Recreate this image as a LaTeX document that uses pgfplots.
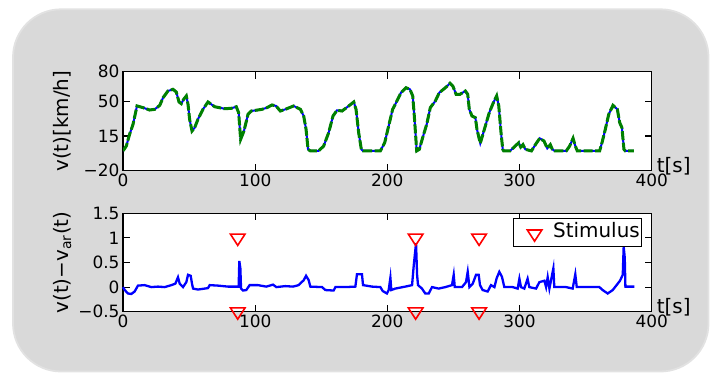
\documentclass[border=0pt]{standalone}
\usepackage{fontspec}
\setmainfont{DejaVu Sans}
\usepackage{pgfplots}
\usepackage{pgfplotstable}
\pgfplotsset{compat=1.18}

\definecolor{boxfill}{HTML}{D9D9D9}
\definecolor{boxedge}{HTML}{E2E2E2}
\definecolor{mgreen}{rgb}{0,0.5,0}

\pgfplotstableread{
t v
0 0
2.5 4.9
5 16.8
7.6 26.9
10.6 45.4
15.1 43.7
20.2 41.3
24 42
27.8 46
30.3 53.7
34 60.5
37.8 62.2
40.3 59.5
42.4 49.4
44.1 47.7
45.9 52.1
47.9 55.5
49.2 47
50.4 31.9
52.2 20.1
54.2 23.4
56.7 31.9
60.5 42
64.3 49.4
69.4 44.6
76.9 42.6
81.9 43
85.7 44.6
87.5 38.6
89 11.7
91.5 20.1
94.6 37
97.1 40.3
105.2 42
109 43.7
112.7 46.4
115.8 45.4
119 40.3
122.8 42
129.1 45.4
134.2 42
136.7 35.3
138.5 21.8
140 1.6
141.7 0
148 0
151.8 4.9
155.6 18.4
158.9 35.3
161.9 41
165.7 40.3
170.8 45.4
174.6 49.4
176.3 42
178.3 18.4
180.3 1.6
181.6 0
194.7 0
198 8.3
201 25.2
204 42
206.6 48.7
210.3 58.8
214.1 63.8
217.1 62.2
219.2 55.5
220.4 35.3
222.2 0
224.2 1.6
226.7 13.3
229.8 26.9
232.5 43.7
236.3 50.4
239.3 58.8
243.9 63.8
247.4 68.3
249.5 65.6
252 57.2
255 57.2
259 60.5
260.8 57.2
262 42
264 35.3
266.6 33.5
267.8 21.8
270.3 7.7
273.4 21.8
277.1 38.6
280.2 48.7
282.7 55.5
284.3 45.4
286 18.4
287.3 1.6
288 0
292.8 0
296 3.9
299.4 8.3
300.9 3.9
302.6 6.3
304.4 1.6
309 0
312.7 7.7
315.3 12.7
318.5 10
321 2.6
323.3 6.3
324.8 1.6
326.6 0
335.4 0
337.9 4.9
340.5 12.7
342.2 4.9
343.7 0
360.6 0
362.4 8.3
364.9 21.8
367.5 37
370.7 46
374 42
375.8 28.5
377.5 23.4
379 1.6
380 0
386.6 0
}\speed

\pgfplotstableread{
t d
0 0
1.3 -0.06
3.8 -0.13
6.3 -0.14
8.8 -0.09
11.3 0.03
16.4 0.04
21.4 0
26.5 0.01
31.5 0
36.6 0.04
39.6 0.07
41.6 0.2
42.9 0.07
45.4 0
47.9 0.1
49.2 0.25
51.2 0.23
52.2 0.07
53 -0.03
56.7 -0.05
64.3 -0.02
65.6 0.04
71.9 0.03
79.4 0.01
87.5 0.01
88 0.53
88.8 0.38
89.3 -0.03
90.8 -0.07
93.3 -0.06
95.8 0.04
102.1 0.04
108.4 0.01
113.5 0.05
116 0
122.8 0.02
128.6 0.01
132.9 0.04
136.7 0.14
138.5 0.23
140.5 0.14
141.7 0.01
150.6 0
153.1 -0.06
159.4 -0.07
160.7 0
168.2 0
175.8 0.01
177 0.26
180.8 0.26
181.6 0.04
188.4 0.01
194.7 0
196.5 -0.08
199.7 -0.13
201 -0.06
202.3 0.19
203 -0.06
206 -0.03
213.6 0.01
218.7 0.04
220 0.45
221.7 0.89
222.5 0.25
223.2 0.04
226.2 -0.03
228.7 -0.13
231.3 -0.13
233.8 0
238.8 -0.03
243.9 0
248.9 0.04
250.2 0.25
251 0
256.5 0
259.5 0.1
260.8 0.31
262.1 0
264.6 0.07
267.1 0.25
269.1 0.25
270.1 0.04
272.1 -0.06
275.9 -0.09
278.4 0.04
281 0
282.7 0.18
284.7 0.31
286.7 0.21
288.5 0
294.8 0
298.6 -0.03
299.9 0.17
301.1 0
303.6 -0.03
306.1 0.17
307.4 0
312.5 -0.03
315 0.1
318.8 0.13
320.1 0
321.3 0.2
322.6 -0.03
325.6 0.38
326.3 0
335.2 0
340.2 -0.03
342.2 0.26
343.3 0
360.4 0
362.9 -0.06
366.7 -0.13
370.5 -0.06
374.3 0.07
376 0.13
378.1 0.25
378.8 0.82
379.6 0.6
380.1 0.01
386.9 0.01
}\diff

\pgfplotstableread{
t s
86.8 1
221.4 1
269.4 1
86.8 -0.5
221.4 -0.5
269.4 -0.5
}\stim

\pgfplotsset{
  mystyle/.style={
    scale only axis, width=528.7bp,
    xmin=0, xmax=400,
    xtick={0,100,200,300,400}, xticklabels={0,100,200,300,400},
    tick align=inside, major tick length=7bp,
    axis line style={line width=1.1bp},
    every tick/.style={black, line width=1.1bp},
    axis background/.style={fill=white},
    tick label style={font=\fontsize{17}{20}\selectfont},
    label style={font=\fontsize{20}{24}\selectfont},
    xlabel={t[s]},
    xlabel style={at={(rel axis cs:1,0)}, anchor=base west, inner sep=0pt, xshift=5bp, yshift=-2bp},
    ylabel style={at={(axis description cs:-0.104,0.5)}, anchor=base, inner sep=0pt},
  }
}

\begin{document}
\begin{tikzpicture}
\path[use as bounding box] (0,0) rectangle (716bp,374bp);
\draw[fill=boxfill, draw=boxedge, line width=1.8bp, rounded corners=48bp] (13bp,2.5bp) rectangle (708.5bp,364.7bp);

\begin{axis}[mystyle,
  at={(123bp,203.3bp)}, anchor=south west, height=99bp,
  ymin=-20, ymax=80,
  ytick={-20,15,50,80}, yticklabels={−20,15,50,80},
  ylabel={v(t)[km/h]},
]
\addplot[blue, line width=2bp] table[x=t,y=v] {\speed};
\addplot[mgreen, line width=3bp, dash pattern=on 9bp off 2.5bp] table[x=t,y=v] {\speed};
\end{axis}

\begin{axis}[mystyle,
  at={(123bp,62.3bp)}, anchor=south west, height=98.4bp,
  ymin=-0.5, ymax=1.5, clip=false,
  ytick={-0.5,0,0.5,1,1.5}, yticklabels={−0.5,0,0.5,1,1.5},
  ylabel={v(t)−v\textsubscript{ar}(t)},
  legend style={at={(rel axis cs:0.981,0.949)}, anchor=north east, draw=black, line width=0.8bp,
    font=\fontsize{20}{24}\selectfont, inner xsep=1.5bp, inner ysep=4bp,
    nodes={inner sep=0pt, text height=15bp, text depth=5bp},
    /tikz/every even column/.append style={column sep=0pt}},
  legend image code/.code={%
    \path[draw=none] (-20bp,0bp) -- (18.6bp,0bp);
    \path[mark repeat=1,mark phase=1,#1, draw=none] plot[mark=triangle, mark options={draw=red, rotate=180, xscale=1.12, line width=1.6bp, solid}] coordinates {(0bp,-1bp)};},
  legend cell align=left,
]
\addplot[blue, line width=2.3bp, forget plot] table[x=t,y=d] {\diff};
\addplot[only marks, red, mark=triangle, mark size=7.5bp,
  mark options={rotate=180, xscale=1.12, line width=1.6bp, solid}] table[x=t,y=s] {\stim};
\addlegendentry{Stimulus}
\end{axis}
\end{tikzpicture}
\end{document}
